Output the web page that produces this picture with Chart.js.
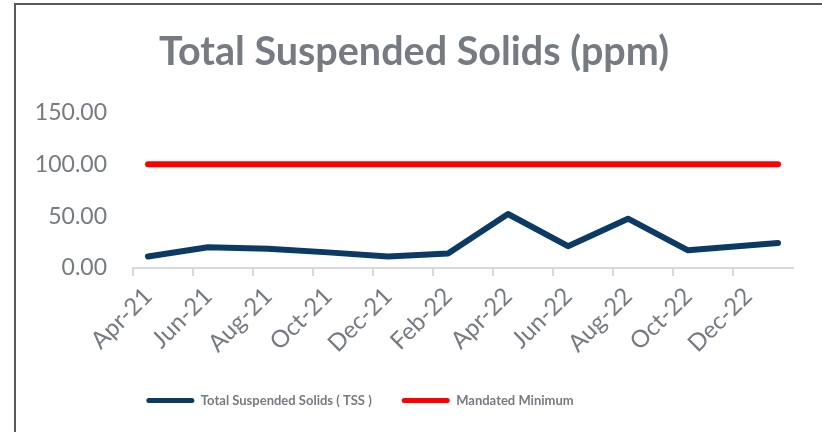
<!DOCTYPE html>
<html>
<head>
<meta charset="utf-8">
<script src="https://cdn.jsdelivr.net/npm/chart.js@4"></script>
<style>
  html, body { margin: 0; padding: 0; background: #fff; }
  #wrap { position: relative; width: 822px; height: 432px; overflow: hidden; }
  #frame { position: absolute; left: 14px; top: 3px; width: 900px; height: 500px;
           border-left: 2px solid #5a5a5a; border-top: 2px solid #5a5a5a; }
  #myLineChart { position: absolute; left: 0; top: 0; }
</style>
</head>
<body>
<div id="wrap">
  <div id="frame"></div>
  <canvas id="myLineChart" width="822" height="432"></canvas>
</div>
<script>
// monthly categories, Apr-21 .. Jan-23 (only every second one is labelled)
var months = ['Apr-21','May-21','Jun-21','Jul-21','Aug-21','Sep-21','Oct-21','Nov-21',
              'Dec-21','Jan-22','Feb-22','Mar-22','Apr-22','May-22','Jun-22','Jul-22',
              'Aug-22','Sep-22','Oct-22','Nov-22','Dec-22','Jan-23'];

// TSS readings (null = no reading that month)
var tss = [11, null, 20, null, 18.5, null, 15, null, 11, null, 14, null,
           52, null, 21, null, 47.5, null, 17, null, null, 24];

var mandated = [100,100,100,100,100,100,100,100,100,100,100,
                100,100,100,100,100,100,100,100,100,100,100];

var yTicks = [0, 50, 100, 150];

var grey = '#767b82';

var ctx = document.getElementById('myLineChart').getContext('2d');

// nudge the legend row left, like the original sheet
var legendShift = {
    id: 'legendShift',
    afterLayout: function(chart) {
        chart.legend.left -= 108;
    }
};

var data = {
    labels: months,
    datasets: [
        {
            label: 'Total Suspended Solids ( TSS )',
            borderColor: '#0b3a64',
            backgroundColor: '#0b3a64',
            borderWidth: 6,
            borderCapStyle: 'round',
            borderJoinStyle: 'round',
            pointRadius: 0,
            spanGaps: true,
            data: tss
        },
        {
            label: 'Mandated Minimum',
            borderColor: '#ff0000',
            backgroundColor: '#ff0000',
            borderWidth: 6,
            borderCapStyle: 'round',
            pointRadius: 0,
            data: mandated
        }
    ]
};

var options = {
    responsive: false,
    animation: false,
    layout: { padding: { top: 29, right: 29, bottom: 15, left: 35 } },
    plugins: {
        title: {
            display: true,
            text: 'Total Suspended Solids (ppm)',
            color: grey,
            font: { family: 'Lato', size: 39.5, weight: 'bold' },
            padding: { top: 0, bottom: 36 }
        },
        legend: {
            position: 'bottom',
            labels: {
                color: grey,
                font: { family: 'Lato', size: 13, weight: 'bold' },
                boxWidth: 48,
                boxHeight: 5,
                padding: 30,
                generateLabels: function(chart) {
                    return chart.data.datasets.map(function(ds, i) {
                        return {
                            text: ds.label,
                            fillStyle: ds.borderColor,
                            strokeStyle: ds.borderColor,
                            lineWidth: 0,
                            borderRadius: 2.5,
                            fontColor: grey,
                            datasetIndex: i
                        };
                    });
                }
            }
        },
        tooltip: { enabled: false }
    },
    scales: {
        x: {
            offset: true,
            afterFit: function(scale) { scale.paddingLeft = 0; },
            grid: {
                offset: true,
                drawOnChartArea: false,
                tickLength: 8,
                lineWidth: 2,
                color: function(c) { return c.index % 2 === 0 ? '#d9d9d9' : 'rgba(0,0,0,0)'; }
            },
            border: { color: '#d9d9d9', width: 2 },
            ticks: {
                autoSkip: false,
                minRotation: 45,
                maxRotation: 45,
                color: grey,
                font: { family: 'Lato', size: 24 },
                padding: 6,
                callback: function(v, i) { return i % 2 === 0 ? months[i] : ''; }
            }
        },
        y: {
            min: yTicks[0],
            max: yTicks[yTicks.length - 1],
            afterFit: function(scale) { scale.width = 98; },
            grid: { display: false },
            border: { display: false },
            afterBuildTicks: function(scale) {
                scale.ticks = yTicks.map(function(v) { return { value: v }; });
            },
            ticks: {
                color: grey,
                font: { family: 'Lato', size: 23 },
                padding: 18,
                callback: function(v) { return Number(v).toFixed(2); }
            }
        }
    }
};

var myLineChart = new Chart(ctx, {
    type: 'line',
    data: data,
    options: options,
    plugins: [legendShift]
});
</script>
</body>
</html>
